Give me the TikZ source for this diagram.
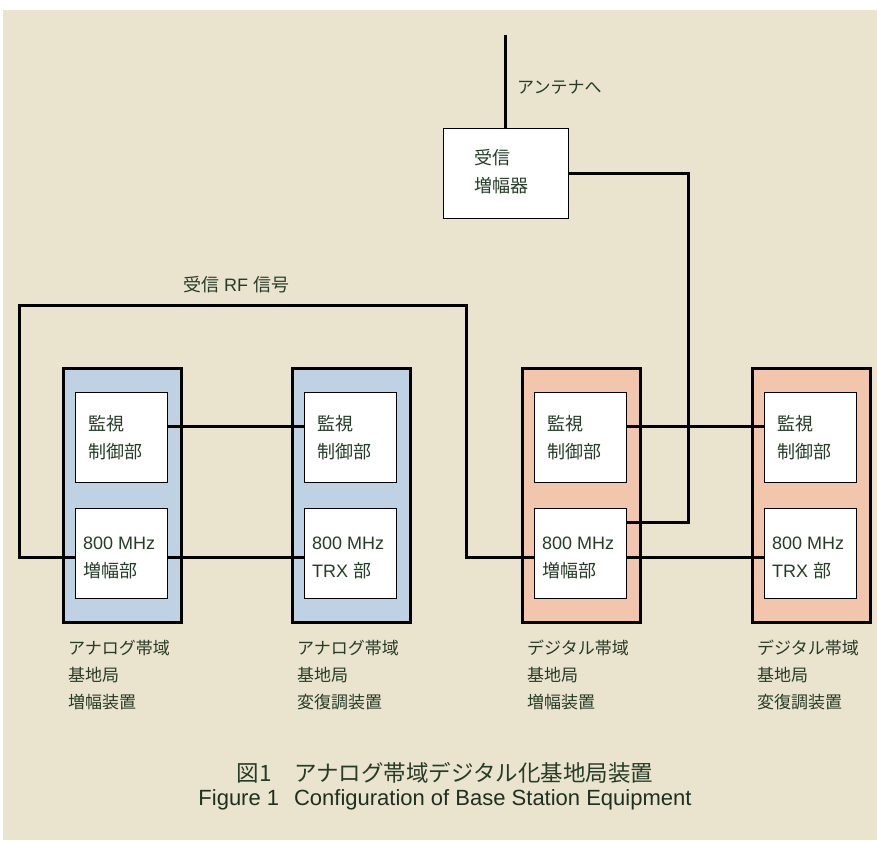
\documentclass[tikz,border=0pt]{standalone}
\usepackage{fontspec}
\setmainfont{Liberation Sans}
\newfontfamily\jp{Noto Sans CJK JP}
\definecolor{bg}{RGB}{234,228,206}
\definecolor{bluef}{RGB}{190,210,228}
\definecolor{orangef}{RGB}{241,198,172}
\definecolor{txt}{RGB}{38,60,40}
\begin{document}
\begin{tikzpicture}[x=1pt,y=-1pt,
  frame/.style={draw=black, line width=3.2pt, minimum width=118pt, minimum height=254pt, inner sep=0pt, anchor=north west},
  inbox/.style={draw=black, line width=1.3pt, fill=white, minimum width=92pt, minimum height=90pt, inner sep=0pt, anchor=north west},
  conn/.style={draw=black, line width=3pt},
  lbl/.style={text=txt, inner sep=0pt, align=left, font=\jp\fontsize{17}{27}\selectfont},
  boxtxt/.style={text=txt, inner sep=0pt, align=left, font=\fontsize{18}{28}\selectfont},
]
\useasboundingbox (0,0) rectangle (877,840);
\fill[white] (0,0) rectangle (877,840);
\fill[bg] (3,10) rectangle (877,840);

% frames
\node[frame, fill=bluef] (fA1) at (62,367) {};
\node[frame, fill=bluef] (fA2) at (291,367) {};
\node[frame, fill=orangef] (fD1) at (521,367) {};
\node[frame, fill=orangef] (fD2) at (751,367) {};

% inner boxes
\node[inbox] (A1t) at (75,392) {};
\node[inbox] (A1b) at (75,508) {};
\node[inbox] (A2t) at (304,392) {};
\node[inbox] (A2b) at (304,508) {};
\node[inbox] (D1t) at (534,392) {};
\node[inbox] (D1b) at (534,508) {};
\node[inbox] (D2t) at (764,392) {};
\node[inbox] (D2b) at (764,508) {};

% receive amplifier
\node[inbox, minimum width=125pt] (rx) at (443,128) {};
\coordinate (ant) at (505,35);
\coordinate (rxturn) at (688,522);
\coordinate (rfL) at (19,305);
\coordinate (rfR) at (466,305);

% connectors
\draw[conn] (ant) -- (ant |- rx.north);
\draw[conn] (rx.east) -| (rxturn) -- (rxturn -| D1b.east);
\draw[conn] ([yshift=-3.5pt]A1b.west) -| (rfL) -- (rfR) |- ([yshift=-3.5pt]D1b.west);
\draw[conn] ([yshift=11pt]A1t.east) -- ([yshift=11pt]A2t.west);
\draw[conn] ([yshift=11pt]D1t.east) -- ([yshift=11pt]D2t.west);
\draw[conn] ([yshift=-3.5pt]A1b.east) -- ([yshift=-3.5pt]A2b.west);
\draw[conn] ([yshift=-3.5pt]D1b.east) -- ([yshift=-3.5pt]D2b.west);

% box texts
\node[boxtxt, anchor=west] (tA1t) at ([xshift=13pt]A1t.west) {\jp 監視\\\jp 制御部};
\node[boxtxt, anchor=west] (tA1b) at ([xshift=8pt,yshift=-4pt]A1b.west) {800 MHz\\\jp 増幅部};
\node[boxtxt, anchor=west] (tA2t) at ([xshift=13pt]A2t.west) {\jp 監視\\\jp 制御部};
\node[boxtxt, anchor=west] (tA2b) at ([xshift=8pt,yshift=-4pt]A2b.west) {800 MHz\\TRX {\jp 部}};
\node[boxtxt, anchor=west] (tD1t) at ([xshift=13pt]D1t.west) {\jp 監視\\\jp 制御部};
\node[boxtxt, anchor=west] (tD1b) at ([xshift=8pt,yshift=-4pt]D1b.west) {800 MHz\\\jp 増幅部};
\node[boxtxt, anchor=west] (tD2t) at ([xshift=13pt]D2t.west) {\jp 監視\\\jp 制御部};
\node[boxtxt, anchor=west] (tD2b) at ([xshift=8pt,yshift=-4pt]D2b.west) {800 MHz\\TRX {\jp 部}};
\node[boxtxt, anchor=west] (trx) at ([xshift=31pt,yshift=2pt]rx.west) {\jp 受信\\\jp 増幅器};

% other labels
\node[lbl, anchor=west] (tant) at (517,87) {アンテナへ};
\node[boxtxt, anchor=west] (trf) at (183,285) {{\jp 受信} RF {\jp 信号}};

% frame labels
\node[lbl, anchor=north west] (lA1) at ([xshift=6pt,yshift=-16pt]fA1.south west) {アナログ帯域\\基地局\\増幅装置};
\node[lbl, anchor=north west] (lA2) at ([xshift=6pt,yshift=-16pt]fA2.south west) {アナログ帯域\\基地局\\変復調装置};
\node[lbl, anchor=north west] (lD1) at ([xshift=6pt,yshift=-16pt]fD1.south west) {デジタル帯域\\基地局\\増幅装置};
\node[lbl, anchor=north west] (lD2) at ([xshift=6pt,yshift=-16pt]fD2.south west) {デジタル帯域\\基地局\\変復調装置};

% caption
\node[text=txt, inner sep=0pt, font=\jp\fontsize{22.5}{24}\selectfont] (cap1) at (445,773) {図1\hspace{1em}アナログ帯域デジタル化基地局装置};
\node[text=txt!80!black, inner sep=0pt, font=\fontsize{22}{24}\selectfont] (cap2) at (445,800) {Figure 1\hspace{0.4em} Configuration of Base Station Equipment};
\end{tikzpicture}
\end{document}
